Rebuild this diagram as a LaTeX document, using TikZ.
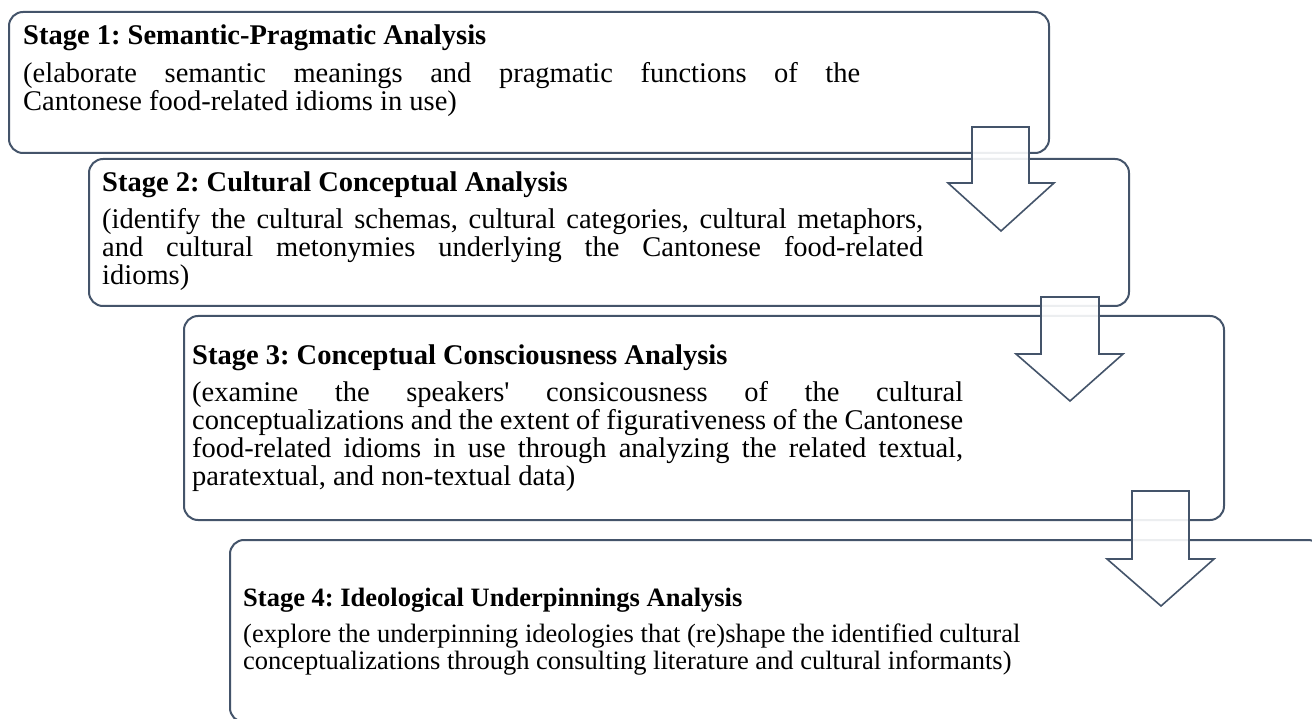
\documentclass[tikz,border=0pt]{standalone}
\usepackage{fontspec}
\setmainfont{Liberation Serif}
\definecolor{slate}{HTML}{44546A}
\tikzset{
  stagebox/.style={draw=slate, line width=2pt, rounded corners=14pt, fill=white,
    inner sep=0pt, anchor=north west},
  flowarrow/.style={draw=slate, line width=1.6pt, fill=white, fill opacity=0.9,
    line join=miter},
  headtext/.style={anchor=base west, inner sep=0pt, font=\fontsize{28.5}{32}\selectfont\bfseries},
  bodytext/.style={anchor=base west, inner sep=0pt, font=\fontsize{28.5}{32}\selectfont},
  lasthead/.style={headtext, font=\fontsize{26.5}{30}\selectfont\bfseries},
  lastbody/.style={bodytext, font=\fontsize{26.5}{30}\selectfont},
}
% a justified line: interword spaces stretched to the given width
\newcommand\justline[2]{\makebox[#1pt][s]{#2}}
\frenchspacing
\begin{document}
\begin{tikzpicture}[x=1pt, y=-1pt]
\clip (0,0) rectangle (1312,719);

% stage boxes
\node[stagebox, minimum width=1040pt, minimum height=141pt] (st1) at (8,11) {};
\node[stagebox, minimum width=1040pt, minimum height=147pt] (st2) at (88,158) {};
\node[stagebox, minimum width=1040pt, minimum height=204pt] (st3) at (183,315) {};
\node[stagebox, minimum width=1092pt, minimum height=182pt] (st4) at (229,539) {};

% stage 1
\node[headtext] (t1h) at (23,45) {Stage 1: Semantic-Pragmatic Analysis};
\node[bodytext] (t1a) at (23,83) {\justline{837}{(elaborate semantic meanings and pragmatic functions of the}};
\node[bodytext] (t1b) at (23,111) {Cantonese food-related idioms in use)};

% stage 2
\node[headtext] (t2h) at (102,192) {Stage 2: Cultural Conceptual Analysis};
\node[bodytext] (t2a) at (102,229) {\justline{821}{(identify the cultural schemas, cultural categories, cultural metaphors,}};
\node[bodytext] (t2b) at (102,257) {\justline{821}{and cultural metonymies underlying the Cantonese food-related}};
\node[bodytext] (t2c) at (102,285) {idioms)};

% stage 3
\node[headtext] (t3h) at (192,364) {Stage 3: Conceptual Consciousness Analysis};
\node[bodytext] (t3a) at (192,401) {\justline{771}{(examine the speakers\textquotesingle{} consicousness of the cultural}};
\node[bodytext] (t3b) at (192,429) {\justline{771}{conceptualizations and the extent of figurativeness of the Cantonese}};
\node[bodytext] (t3c) at (192,457) {\justline{771}{food-related idioms in use through analyzing the related textual,}};
\node[bodytext] (t3d) at (192,485) {paratextual, and non-textual data)};

% stage 4
\node[lasthead] (t4h) at (243,606) {Stage 4: Ideological Underpinnings Analysis};
\node[lastbody] (t4a) at (243,642) {(explore the underpinning ideologies that (re)shape the identified cultural};
\node[lastbody] (t4b) at (243,669) {conceptualizations through consulting literature and cultural informants)};

% block arrows leading from one stage to the next
\draw[flowarrow] (972,127) -- (1029,127) -- (1029,183) -- (1054,183) -- (1001,231)
  -- (948,183) -- (972,183) -- cycle;
\draw[flowarrow] (1041,297) -- (1099,297) -- (1099,354) -- (1123,354) -- (1070,401)
  -- (1016,354) -- (1041,354) -- cycle;
\draw[flowarrow] (1132,491) -- (1189,491) -- (1189,559) -- (1214,559) -- (1161,606)
  -- (1107,559) -- (1132,559) -- cycle;
\end{tikzpicture}
\end{document}
